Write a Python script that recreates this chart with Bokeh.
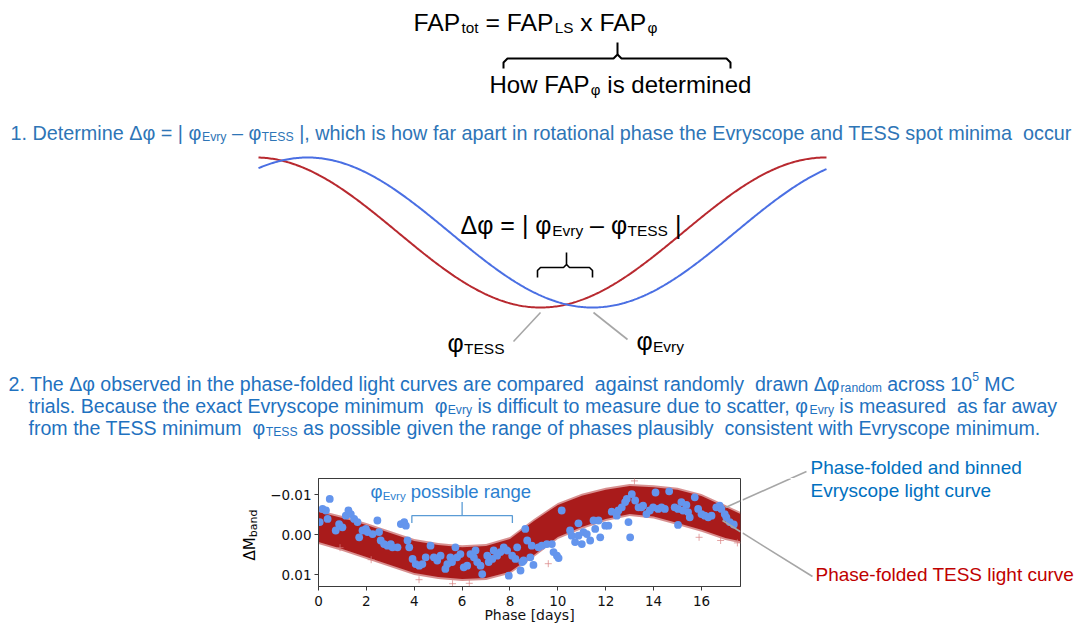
import numpy as np
from bokeh.plotting import figure
from bokeh.models import Range1d, FixedTicker
from bokeh.layouts import column, row
from bokeh.embed import file_html
from bokeh.resources import INLINE
from bokeh.core.properties import value

# ---------------- data ----------------
# Phase-folded and binned Evryscope light curve (phase [days], delta mag)
evry_phase = [0.05, 0.17, 0.31, 0.38, 0.47, 0.72, 0.86, 1.00, 1.14, 1.25, 1.35, 1.49, 1.63, 1.70, 1.84,
              1.98, 2.05, 2.26, 2.46, 2.53, 2.60, 2.74, 2.88, 3.02, 3.09, 3.30, 3.44, 3.58, 3.65, 3.72,
              3.79, 3.93, 4.06, 4.21, 4.34, 4.48,
              4.68, 4.82, 4.96, 5.10, 5.30, 5.38, 5.51, 5.58, 5.72, 5.79, 5.93, 6.07, 6.21, 6.35, 6.49,
              6.56, 6.63, 6.77, 6.84, 7.05, 7.11, 7.26, 7.32, 7.46, 7.60, 7.74, 7.88, 7.95, 8.09, 8.23,
              8.30, 8.44, 8.51, 8.57, 8.64, 8.72, 8.85,
              8.91, 8.98, 9.19, 9.33, 9.54, 9.75, 9.82, 9.96, 10.03, 10.16, 10.51, 10.58, 10.72, 10.86,
              10.86, 11.00, 11.07, 11.21, 11.35, 11.49, 11.56, 11.70, 11.77, 11.98, 12.11, 12.25, 12.46,
              12.53, 12.67, 12.81, 12.88, 12.95, 13.02, 13.09, 13.23, 13.37,
              13.49, 13.56, 13.70, 13.84, 13.98, 14.08, 14.19, 14.33, 14.47, 14.65, 14.88, 15.02, 15.02,
              15.16, 15.23, 15.37, 15.44, 15.51, 15.72, 15.86, 16.00, 16.14, 16.28, 16.42, 16.62, 16.76,
              16.83, 16.97, 17.04, 17.18, 17.35]
evry_dmag = [-0.0032, -0.0065, -0.0061, -0.0040, -0.0090, -0.0011, -0.0027, -0.0019, -0.0048, -0.0061,
             -0.0052, -0.0040, -0.0032, 0.0006, -0.0011, -0.0015, -0.0007, -0.0002, -0.0036, -0.0007,
             0.0014, 0.0023, 0.0027, 0.0023, 0.0031, 0.0031, -0.0027, -0.0032, -0.0023, 0.0014,
             0.0031, 0.0060, 0.0073, 0.0077, 0.0073, 0.0056,
             0.0027, 0.0056, 0.0064, 0.0052, 0.0085, 0.0073, 0.0056, 0.0068, 0.0031, 0.0056,
             0.0048, 0.0081, 0.0077, 0.0048, 0.0056, 0.0039, 0.0068, 0.0077, 0.0098, 0.0052,
             0.0068, 0.0060, 0.0039, 0.0052, 0.0043, 0.0031, 0.0039, 0.0102, 0.0052, 0.0060,
             0.0031, 0.0089, 0.0068, 0.0064, -0.0015, 0.0014, 0.0056,
             0.0027, 0.0075, 0.0031, 0.0027, 0.0023, 0.0023, 0.0043, 0.0052, 0.0058, -0.0061,
             -0.0011, 0.0002, 0.0018, 0.0002, -0.0029, 0.0023, -0.0007, -0.0002, 0.0014, -0.0036,
             -0.0015, -0.0036, 0.0006, -0.0023, -0.0023, -0.0058, -0.0048, -0.0061, -0.0069, -0.0082,
             -0.0090, -0.0032, 0.0006, -0.0102, -0.0086, -0.0069,
             -0.0069, -0.0073, -0.0052, -0.0061, -0.0069, -0.0106, -0.0065, -0.0069, -0.0065, -0.0109,
             -0.0069, -0.0065, -0.0025, -0.0082, -0.0061, -0.0075, -0.0057, -0.0044, -0.0094, -0.0065,
             -0.0052, -0.0048, -0.0044, -0.0048, -0.0069, -0.0073, -0.0065, -0.0052, -0.0044, -0.0032,
             -0.0026]

# Phase-folded TESS light curve: envelope of the dense point cloud
tess_phase = [0, 1, 2, 3, 4, 5, 6, 7, 8, 9, 10, 11, 12, 13, 14, 15, 16, 17, 17.63]
tess_upper = [-0.0057, -0.0042, -0.0025, -0.0005, 0.0015, 0.0025, 0.0031, 0.0028, 0.0010, -0.0035,
              -0.0075, -0.0098, -0.0113, -0.0122, -0.0119, -0.0113, -0.0097, -0.0070, -0.0052]
tess_lower = [0.0018, 0.0035, 0.0055, 0.0075, 0.0095, 0.0105, 0.0110, 0.0108, 0.0092, 0.0050,
              0.0005, -0.0020, -0.0040, -0.0052, -0.0046, -0.0030, -0.0013, 0.0008, 0.0016]
tess_out_phase = [0.9, 2.2, 4.2, 5.6, 6.3, 9.6, 13.2, 15.9, 16.8, 17.5]
tess_out_dmag = [0.0032, 0.0062, 0.0112, 0.0122, 0.0121, 0.0072, -0.0135, 0.0006, 0.0014, 0.0020]

phi_evry_range = [3.9, 8.1]           # possible range of the Evryscope minimum [days]
x_ticks = [0, 2, 4, 6, 8, 10, 12, 14, 16]
y_ticks = [-0.01, 0.0, 0.01]
y_tick_labels = ["\u22120.01", "0.00", "0.01"]

# schematic sinusoids (page px): positions of minima and period
schem_min_tess = 540
schem_min_evry = 592
schem_period = 570

# ---------------- text helpers ----------------
AW = {' ': 278, '\u00a0': 278, ',': 278, '-': 333, '.': 278, '=': 584, '[': 278, ']': 278, '|': 260,
      '\u2013': 556, '\u0394': 668, '\u03c6': 660}
for c in "0123456789":
    AW[c] = 556
for c, w in zip("abcdefghijklmnopqrstuvwxyz",
                [556, 556, 500, 556, 556, 278, 556, 556, 222, 222, 500, 222, 833, 556, 556, 556, 556,
                 333, 500, 278, 556, 500, 722, 500, 500, 500]):
    AW[c] = w
for c, w in zip("ABCDEFGHIJKLMNOPQRSTUVWXYZ",
                [667, 667, 722, 722, 667, 611, 778, 722, 278, 500, 667, 556, 833, 722, 778, 667, 778,
                 722, 667, 611, 722, 667, 944, 667, 667, 611]):
    AW[c] = w


def tw(s):
    return sum(AW.get(c, 556) for c in s) / 1000.0


SUB = 0.62


def rich(p, x, y, segs, size, color, font="Liberation Sans", align="left"):
    total = 0.0
    for t, k in segs:
        s = size * (SUB if k != 'n' else 1)
        total += tw(t) * s
    off = 0.0 if align == "left" else (-total / 2 if align == "center" else -total)
    for t, k in segs:
        s = size * (SUB if k != 'n' else 1)
        lead = len(t) - len(t.lstrip(' '))
        body = t.strip(' ').replace('  ', '\u00a0 ')
        dy = 0.22 * size if k == 'sub' else (-0.36 * size if k == 'sup' else 0)
        if body:
            p.text(x=[x], y=[y], text=[body], x_offset=off + tw(t[:lead]) * s, y_offset=dy,
                   text_font=value(font), text_font_size=f"{s:.1f}px", text_color=color,
                   text_align="left", text_baseline="alphabetic")
        off += tw(t) * s


def blank(w, h, xr, yr, top_b=0, bottom_b=0):
    p = figure(width=w, height=h, x_range=Range1d(*xr), y_range=Range1d(*yr),
               output_backend="svg", toolbar_location=None,
               x_axis_location=None, y_axis_location=None,
               min_border_left=0, min_border_right=0, min_border_top=top_b, min_border_bottom=bottom_b,
               outline_line_color=None, background_fill_color="white", border_fill_color="white")
    p.grid.visible = False
    return p


# page geometry
PAGE_W = 1086
TOP_H = 478          # height of the upper panel; the light-curve frame starts here
FRAME_H = 108
BOT_B = 40
ROW_H = FRAME_H + BOT_B
LEFT_W = 262
INNER_W = 480
RIGHT_W = PAGE_W - LEFT_W - INNER_W
GREY = "#A6A6A6"

# ---------------- top panel (page pixel coordinates) ----------------
top = blank(PAGE_W, TOP_H, (0, PAGE_W), (TOP_H, 0))

rich(top, 413, 22, [("FAP", 'n'), ("tot", 'sub'), (" = FAP", 'n'), ("LS", 'sub'), (" x FAP", 'n'),
                    ("\u03c6", 'sub')], 24.7, "black")
# curly brace under FAP_phi
top.line([503, 503, 507, 613, 617, 617], [68, 62, 58, 58, 54, 42], line_color="black", line_width=2)
top.line([617, 621, 726, 730, 730], [54, 58, 58, 62, 68], line_color="black", line_width=2)
rich(top, 489, 84, [("How FAP", 'n'), ("\u03c6", 'sub'), (" is determined", 'n')], 24, "black")

P1 = "#2E75B6"
rich(top, 10, 132, [("1. Determine \u0394\u03c6 = | \u03c6", 'n'), ("Evry", 'sub'), (" \u2013 \u03c6", 'n'),
                    ("TESS", 'sub'),
                    (" |, which is how far apart in rotational phase the Evryscope and TESS spot minima  occur", 'n')],
     19.8, P1)

# schematic light curves
xs = np.linspace(258, 826, 400)
red_y = 232 + 75 * np.cos(2 * np.pi * (xs - schem_min_tess) / schem_period)
blue_y = 232 + 75 * np.cos(2 * np.pi * (xs - schem_min_evry) / schem_period)
top.line(xs, red_y, line_color="#B8292F", line_width=2)
top.line(xs, blue_y, line_color="#4A6FE3", line_width=2)

rich(top, 460, 224, [("\u0394\u03c6 = | \u03c6", 'n'), ("Evry", 'sub'), (" \u2013 \u03c6", 'n'), ("TESS", 'sub'),
                     (" |", 'n')], 25, "black")
top.line([537, 537, 540, 563, 566, 566], [277, 270, 267, 267, 264, 252], line_color="black", line_width=1.6)
top.line([566, 569, 589, 592, 592], [264, 267, 267, 270, 277], line_color="black", line_width=1.6)

top.line([540, 513], [312, 341], line_color=GREY, line_width=1.6)
top.line([593, 627], [312, 339], line_color=GREY, line_width=1.6)
rich(top, 447, 342, [("\u03c6", 'n'), ("TESS", 'sub')], 25, "black")
rich(top, 636, 340, [("\u03c6", 'n'), ("Evry", 'sub')], 25, "black")

P2 = "#1F72C0"
rich(top, 8, 383, [("2. The \u0394\u03c6 observed in the phase-folded light curves are compared  against randomly  drawn \u0394\u03c6", 'n'),
                   ("random", 'sub'), (" across 10", 'n'), ("5", 'sup'), (" MC", 'n')], 19.6, P2)
rich(top, 28, 405, [("trials. Because the exact Evryscope minimum  \u03c6", 'n'), ("Evry", 'sub'),
                    (" is difficult to measure due to scatter, \u03c6", 'n'), ("Evry", 'sub'),
                    (" is measured  as far away", 'n')], 19.6, P2)
rich(top, 28, 427, [("from the TESS minimum  \u03c6", 'n'), ("TESS", 'sub'),
                    (" as possible given the range of phases plausibly  consistent with Evryscope minimum.", 'n')],
     19.6, P2)

# connector lines to the light-curve annotations (page px)
up_line = ((725, 507), (806, 471))
lo_line = ((722, 520), (812, 576))


def y_at(line, x):
    (x0, y0), (x1, y1) = line
    return y0 + (y1 - y0) * (x - x0) / (x1 - x0)


def x_at(line, y):
    (x0, y0), (x1, y1) = line
    return x0 + (x1 - x0) * (y - y0) / (y1 - y0)


xc = x_at(up_line, TOP_H)
top.line([xc, up_line[1][0]], [TOP_H, up_line[1][1]], line_color=GREY, line_width=1.6)
rich(top, 810, 467, [("Phase-folded and binned", 'n')], 19, "#0070C0")

# ---------------- bottom row ----------------
left = blank(LEFT_W, ROW_H, (0, LEFT_W), (0, FRAME_H), 0, BOT_B)   # y value = 586 - page y
left.text(x=[249], y=[26], text=["\u0394M"], angle=np.pi / 2, text_font=value("DejaVu Sans"),
          text_font_size="15px", text_color="black", text_align="left", text_baseline="alphabetic")
left.text(x=[252.5], y=[49.2], text=["band"], angle=np.pi / 2, text_font=value("DejaVu Sans"),
          text_font_size="11px", text_color="black", text_align="left", text_baseline="alphabetic")

inner = figure(width=INNER_W, height=ROW_H, x_range=Range1d(0, 17.63), y_range=Range1d(0.0129, -0.0141),
               output_backend="svg", toolbar_location=None,
               min_border_left=56, min_border_right=2, min_border_top=0, min_border_bottom=BOT_B,
               background_fill_color="white", border_fill_color="white",
               outline_line_color="#3a3a3a", outline_line_width=1)
inner.grid.visible = False
inner.xaxis.ticker = FixedTicker(ticks=x_ticks)
inner.yaxis.ticker = FixedTicker(ticks=y_ticks)
inner.yaxis.major_label_overrides = {t: l for t, l in zip(y_ticks, y_tick_labels)}
for ax in (inner.xaxis[0], inner.yaxis[0]):
    ax.axis_line_color = "#3a3a3a"
    ax.major_tick_line_color = "#3a3a3a"
    ax.major_tick_out = 4
    ax.major_tick_in = 0
    ax.minor_tick_line_color = None
    ax.major_label_text_font = "DejaVu Sans"
    ax.major_label_text_font_size = "13.5px"
    ax.major_label_text_color = "#111111"
inner.xaxis.major_label_standoff = 5
inner.yaxis.major_label_standoff = 3
inner.xaxis.axis_label = "Phase [days]"
inner.xaxis.axis_label_text_font = "DejaVu Sans"
inner.xaxis.axis_label_text_font_size = "14px"
inner.xaxis.axis_label_text_font_style = "normal"
inner.xaxis.axis_label_text_color = "#111111"
inner.xaxis.axis_label_standoff = -2

up = np.array(tess_upper)
lo = np.array(tess_lower)
inner.varea(x=tess_phase, y1=up - 0.0005, y2=lo + 0.0005, fill_color="#B22222", fill_alpha=0.5)
inner.varea(x=tess_phase, y1=up, y2=lo, fill_color="#A91B1B", fill_alpha=1.0)
inner.scatter(tess_out_phase, tess_out_dmag, marker="cross", size=7, line_color="#D98080", line_alpha=0.7)
inner.scatter(evry_phase, evry_dmag, marker="circle", size=7.8, fill_color="#6495ED", line_color=None)

# bracket marking the possible range of phi_Evry
r0, r1 = phi_evry_range
rm = (r0 + r1) / 2
BR = "#5A9BD5"
inner.line([r0, r0, r1, r1], [-0.0030, -0.0048, -0.0048, -0.0030], line_color=BR, line_width=1.3)
inner.line([rm, rm], [-0.0048, -0.0082], line_color=BR, line_width=1.3)
rich(inner, 2.17, -0.0108, [("\u03c6", 'n'), ("Evry", 'sub'), (" possible range", 'n')], 18.5, "#2C7FD0")

# connector parts inside the plot frame (page px -> data)
FRAME_L, FRAME_R = LEFT_W + 56, LEFT_W + INNER_W - 2
PX_PER_DAY = (FRAME_R - FRAME_L) / 17.63
PX_PER_MAG = FRAME_H / 0.027


def to_data(px, py):
    return (px - FRAME_L) / PX_PER_DAY, -0.0141 + (py - TOP_H) / PX_PER_MAG


for ln in (up_line, lo_line):
    a = to_data(*ln[0])
    b = to_data(FRAME_R, y_at(ln, FRAME_R))
    inner.line([a[0], b[0]], [a[1], b[1]], line_color=GREY, line_width=1.6)

right = blank(RIGHT_W, ROW_H, (LEFT_W + INNER_W, PAGE_W), (TOP_H + FRAME_H, TOP_H), 0, BOT_B)
x0r = LEFT_W + INNER_W
right.line([x0r, xc], [y_at(up_line, x0r), TOP_H], line_color=GREY, line_width=1.6)
right.line([x0r, lo_line[1][0]], [y_at(lo_line, x0r), lo_line[1][1]], line_color=GREY, line_width=1.6)
rich(right, 810, 490, [("Evryscope light curve", 'n')], 19, "#0070C0")
rich(right, 815, 574, [("Phase-folded TESS light curve", 'n')], 19, "#C00000")

layout = column(top, row(left, inner, right))
open("out.html", "w").write(file_html(layout, INLINE))
